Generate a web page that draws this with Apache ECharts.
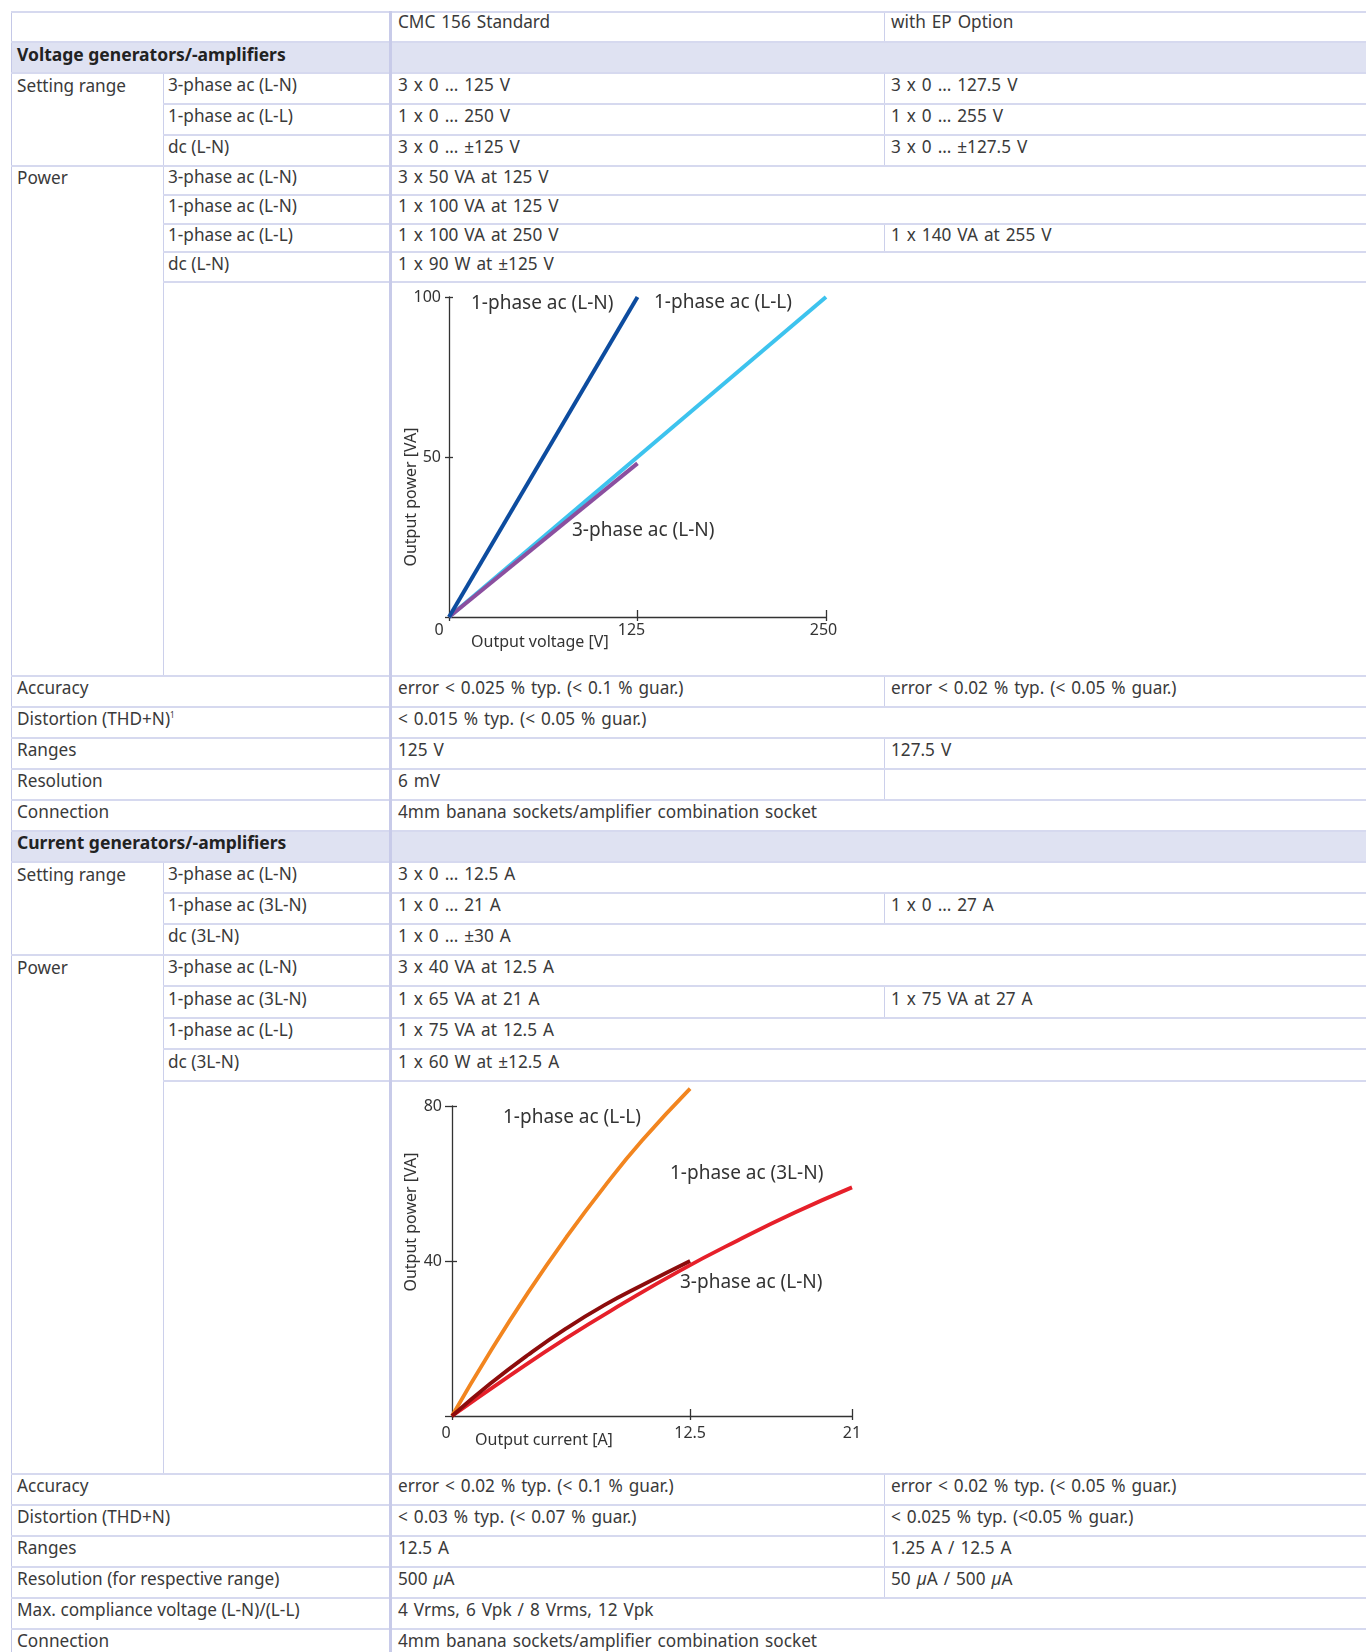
<!DOCTYPE html>
<html><head><meta charset="utf-8">
<script src="https://cdn.jsdelivr.net/npm/echarts@6/dist/echarts.min.js"></script>
<style>
html,body{margin:0;padding:0;background:#fff;}
body{width:1366px;height:1652px;position:relative;overflow:hidden;font-family:"Noto Sans",sans-serif;color:#3a3a3a;}
table{position:absolute;left:11px;top:11px;border-collapse:collapse;table-layout:fixed;width:1355px;font-size:17.2px;}
td{padding:0 0 6px 4px;border-top:2px solid #d6d9ef;border-bottom:2px solid #d6d9ef;vertical-align:middle;white-space:nowrap;overflow:hidden;line-height:1.2;}
td.c1{border-left:1px solid #c4c8e7;padding-left:5px;}
td.c2{border-left:1px solid #ccd0eb;}
td.c3{border-left:3px solid #c8cbe9;padding-left:6px;word-spacing:1.5px;}
td.c4{border-left:1px solid #ccd0eb;padding-left:6px;word-spacing:1.5px;}
td.sec{background:#dfe2f2;}
td.sec b{color:#222;font-weight:700;font-size:17.5px;word-spacing:0;}
td.hd{vertical-align:top;padding-top:0;padding-bottom:0;line-height:17px;}
td.top{vertical-align:top;padding-bottom:0;}
sup{font-size:8px;vertical-align:7px;line-height:0;}
.chart{position:absolute;left:0;width:1366px;pointer-events:none;}
</style>
</head><body>
<table>
<colgroup><col style="width:152px"><col style="width:227px"><col style="width:494px"><col style="width:482px"></colgroup>
<tr style="height:30px"><td class="c1 hd" colspan="2"></td><td class="c3 hd">CMC 156 Standard</td><td class="c4 hd">with EP Option</td></tr>
<tr style="height:31px"><td class="c1 sec" colspan="2"><b>Voltage generators/-amplifiers</b></td><td class="c3 sec" colspan="2"></td></tr>
<tr style="height:31px"><td class="c1 top" rowspan="3" style="line-height:23px">Setting range</td><td class="c2">3-phase ac (L-N)</td><td class="c3">3 x 0 … 125 V</td><td class="c4">3 x 0 … 127.5 V</td></tr>
<tr style="height:31px"><td class="c2">1-phase ac (L-L)</td><td class="c3">1 x 0 … 250 V</td><td class="c4">1 x 0 … 255 V</td></tr>
<tr style="height:31px"><td class="c2">dc (L-N)</td><td class="c3">3 x 0 … ±125 V</td><td class="c4">3 x 0 … ±127.5 V</td></tr>
<tr style="height:29px"><td class="c1 top" rowspan="5" style="line-height:21px">Power</td><td class="c2">3-phase ac (L-N)</td><td class="c3" colspan="2">3 x 50 VA at 125 V</td></tr>
<tr style="height:28.5px"><td class="c2">1-phase ac (L-N)</td><td class="c3" colspan="2">1 x 100 VA at 125 V</td></tr>
<tr style="height:28.5px"><td class="c2">1-phase ac (L-L)</td><td class="c3">1 x 100 VA at 250 V</td><td class="c4">1 x 140 VA at 255 V</td></tr>
<tr style="height:29.3px"><td class="c2">dc (L-N)</td><td class="c3" colspan="2">1 x 90 W at ±125 V</td></tr>
<tr style="height:394px"><td class="c2"></td><td class="c3" colspan="2"></td></tr>
<tr style="height:31px"><td class="c1" colspan="2">Accuracy</td><td class="c3">error &lt; 0.025 % typ. (&lt; 0.1 % guar.)</td><td class="c4">error &lt; 0.02 % typ. (&lt; 0.05 % guar.)</td></tr>
<tr style="height:31px"><td class="c1" colspan="2">Distortion (THD+N)<sup>1</sup></td><td class="c3" colspan="2">&lt; 0.015 % typ. (&lt; 0.05 % guar.)</td></tr>
<tr style="height:31px"><td class="c1" colspan="2">Ranges</td><td class="c3">125 V</td><td class="c4">127.5 V</td></tr>
<tr style="height:31px"><td class="c1" colspan="2">Resolution</td><td class="c3">6 mV</td><td class="c4"></td></tr>
<tr style="height:31px"><td class="c1" colspan="2">Connection</td><td class="c3" colspan="2">4mm banana sockets/amplifier combination socket</td></tr>
<tr style="height:31px"><td class="c1 sec" colspan="2"><b>Current generators/-amplifiers</b></td><td class="c3 sec" colspan="2"></td></tr>
<tr style="height:31px"><td class="c1 top" rowspan="3" style="line-height:23px">Setting range</td><td class="c2">3-phase ac (L-N)</td><td class="c3" colspan="2">3 x 0 … 12.5 A</td></tr>
<tr style="height:31px"><td class="c2">1-phase ac (3L-N)</td><td class="c3">1 x 0 … 21 A</td><td class="c4">1 x 0 … 27 A</td></tr>
<tr style="height:31px"><td class="c2">dc (3L-N)</td><td class="c3" colspan="2">1 x 0 … ±30 A</td></tr>
<tr style="height:31.5px"><td class="c1 top" rowspan="5" style="line-height:23.5px">Power</td><td class="c2">3-phase ac (L-N)</td><td class="c3" colspan="2">3 x 40 VA at 12.5 A</td></tr>
<tr style="height:31.5px"><td class="c2">1-phase ac (3L-N)</td><td class="c3">1 x 65 VA at 21 A</td><td class="c4">1 x 75 VA at 27 A</td></tr>
<tr style="height:31.5px"><td class="c2">1-phase ac (L-L)</td><td class="c3" colspan="2">1 x 75 VA at 12.5 A</td></tr>
<tr style="height:31.5px"><td class="c2">dc (3L-N)</td><td class="c3" colspan="2">1 x 60 W at ±12.5 A</td></tr>
<tr style="height:393px"><td class="c2"></td><td class="c3" colspan="2"></td></tr>
<tr style="height:31px"><td class="c1" colspan="2">Accuracy</td><td class="c3">error &lt; 0.02 % typ. (&lt; 0.1 % guar.)</td><td class="c4">error &lt; 0.02 % typ. (&lt; 0.05 % guar.)</td></tr>
<tr style="height:31px"><td class="c1" colspan="2">Distortion (THD+N)</td><td class="c3">&lt; 0.03 % typ. (&lt; 0.07 % guar.)</td><td class="c4">&lt; 0.025 % typ. (&lt;0.05 % guar.)</td></tr>
<tr style="height:31px"><td class="c1" colspan="2">Ranges</td><td class="c3">12.5 A</td><td class="c4">1.25 A / 12.5 A</td></tr>
<tr style="height:31px"><td class="c1" colspan="2">Resolution (for respective range)</td><td class="c3">500 <i>µ</i>A</td><td class="c4">50 <i>µ</i>A / 500 <i>µ</i>A</td></tr>
<tr style="height:31px"><td class="c1" colspan="2">Max. compliance voltage (L-N)/(L-L)</td><td class="c3" colspan="2">4 Vrms, 6 Vpk / 8 Vrms, 12 Vpk</td></tr>
<tr style="height:31px"><td class="c1" colspan="2">Connection</td><td class="c3" colspan="2">4mm banana sockets/amplifier combination socket</td></tr>
</table>
<div id="c1" class="chart" style="top:281px;height:394px"></div>
<div id="c2" class="chart" style="top:1080px;height:393px"></div>
<script>
// ---- Chart 1: voltage output power vs output voltage ----
const voltTicks = [125, 250];
const voltLabels = [0, 125, 250];
const vaTicks1 = [0, 50, 100];
const vaLabels1 = [50, 100];
const v1phLN = [[0, 0], [125, 100]];   // 1-phase ac (L-N)
const v1phLL = [[0, 0], [250, 100]];   // 1-phase ac (L-L)
const v3phLN = [[0, 0], [125, 48]];    // 3-phase ac (L-N)

// ---- Chart 2: current output power vs output current ----
const curTicks = [12.5, 21];
const curLabels = [0, 12.5, 21];
const vaTicks2 = [0, 40, 80];
const vaLabels2 = [40, 80];
const c1phLL = [[0, 0], [2, 16.5], [4, 31.9], [6, 46.1], [8, 59.2], [10, 71.2], [12.5, 84.5]];
const c1ph3LN = [[0, 0], [3, 10.3], [6, 20.1], [9, 29.1], [12, 37.6], [15, 45.3], [18, 52.5], [21, 59]];
const c3phLN = [[0, 0], [2, 8.3], [4, 15.8], [6, 22.6], [8, 28.6], [10, 33.8], [12.5, 40]];

const TXT = '#333';
const FONT = '"Noto Sans", sans-serif';
const axisLine = {show: true, lineStyle: {color: '#333', width: 1.3}};

function xAxes(min, max, ticks, labels, margin, shifts) {
  return [
    {type: 'value', min, max, position: 'bottom', axisLine,
     splitLine: {show: false},
     axisTick: {show: true, inside: false, length: 4, lineStyle: {color: '#333', width: 1.3}, customValues: [0].concat(ticks)},
     axisLabel: {show: true, customValues: labels, margin, color: TXT, fontSize: 16, fontFamily: FONT,
       formatter: v => '{s' + labels.indexOf(v) + '|' + v + '}',
       rich: Object.fromEntries(labels.map((v, i) => ['s' + i, {fontSize: 16, fontFamily: FONT, color: TXT, padding: [0, shifts[i], 0, 0]}]))}},
    {type: 'value', min, max, position: 'bottom', axisLine: {show: false}, splitLine: {show: false},
     axisTick: {show: true, inside: true, length: 7, lineStyle: {color: '#333', width: 1.3}, customValues: ticks},
     axisLabel: {show: false}}
  ];
}
function yAxes(min, max, ticks, labels, margin, outLen, inLen) {
  return [
    {type: 'value', min, max, position: 'left', axisLine, splitLine: {show: false},
     axisTick: {show: true, inside: false, length: outLen, lineStyle: {color: '#333', width: 1.3}, customValues: ticks},
     axisLabel: {show: true, customValues: labels, margin, color: TXT, fontSize: 16, fontFamily: FONT}},
    {type: 'value', min, max, position: 'left', axisLine: {show: false}, splitLine: {show: false},
     axisTick: {show: true, inside: true, length: inLen, lineStyle: {color: '#333', width: 1.3}, customValues: ticks.filter(t => t !== 0)},
     axisLabel: {show: false}}
  ];
}
function line(name, data, color, width, smooth, z) {
  return {name, type: 'line', data, xAxisIndex: 0, yAxisIndex: 0, symbol: 'none', smooth, clip: false, z,
          lineStyle: {color, width, cap: 'butt'}, silent: true, animation: false};
}
function txt(text, x, y, size, rot) {
  return {type: 'text', x, y, rotation: rot || 0, silent: true,
          style: {text, fill: TXT, font: size + 'px ' + FONT, align: rot ? 'center' : 'left', verticalAlign: 'middle'}};
}

const ch1 = echarts.init(document.getElementById('c1'), null, {renderer: 'canvas'});
ch1.setOption({
  animation: false,
  grid: {left: 449, top: 16, width: 377, height: 320, containLabel: false},
  xAxis: xAxes(0, 250, voltTicks, voltLabels, 5, [20, 12, 5]),
  yAxis: yAxes(0, 100, vaTicks1, vaLabels1, 8, 4, 4),
  series: [
    line('1-phase ac (L-L)', v1phLL, '#3dc3ee', 4, false, 2),
    line('3-phase ac (L-N)', v3phLN, '#8b4f9f', 4, false, 3),
    line('1-phase ac (L-N)', v1phLN, '#0d4c9f', 4, false, 4)
  ],
  graphic: [
    txt('1-phase ac (L-N)', 471, 23, 19),
    txt('1-phase ac (L-L)', 654, 22, 19),
    txt('3-phase ac (L-N)', 572, 250, 19),
    txt('Output power [VA]', 411, 216, 16, Math.PI / 2),
    txt('Output voltage [V]', 471, 361, 16)
  ]
});

const ch2 = echarts.init(document.getElementById('c2'), null, {renderer: 'canvas'});
ch2.setOption({
  animation: false,
  grid: {left: 452, top: 26, width: 400, height: 310, containLabel: false},
  xAxis: xAxes(0, 21, curTicks, curLabels, 9, [12, 0, 0]),
  yAxis: yAxes(0, 80, vaTicks2, vaLabels2, 10, 7, 5),
  series: [
    line('1-phase ac (L-L)', c1phLL, '#f2851f', 3.8, 0.5, 2),
    line('1-phase ac (3L-N)', c1ph3LN, '#e6202a', 3.8, 0.5, 3),
    line('3-phase ac (L-N)', c3phLN, '#8c0c0c', 3.8, 0.5, 4)
  ],
  graphic: [
    txt('1-phase ac (L-L)', 503, 38, 19),
    txt('1-phase ac (3L-N)', 670, 94, 19),
    txt('3-phase ac (L-N)', 680, 203, 19),
    txt('Output power [VA]', 411, 142, 16, Math.PI / 2),
    txt('Output current [A]', 475, 360, 16)
  ]
});
</script>
</body></html>
